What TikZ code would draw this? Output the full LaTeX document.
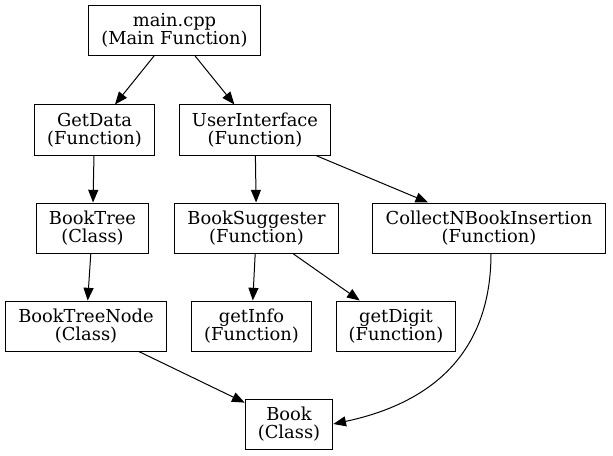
\documentclass[tikz,border=0pt]{standalone}
\usepackage{fontspec}
\setmainfont{DejaVu Serif}
\usetikzlibrary{positioning,arrows.meta}

\tikzset{
  box/.style={draw, line width=0.75pt, align=center, font=\fontsize{13.4pt}{13.5pt}\selectfont,
    minimum height=37.5pt, inner xsep=9.5pt, inner ysep=2pt},
  edge/.style={-{Triangle[length=9.5pt,width=7.5pt]}, line width=0.75pt}
}

\begin{document}
\begin{tikzpicture}[x=0.75pt,y=-0.75pt]
	\useasboundingbox (0,0) rectangle (613,456);
	\node[box] (main) at (174.5,30.5){main.cpp\\(Main Function)};
	\node[box] (getdata) at (94.5,130){GetData\\(Function)};
	\node[box] (ui) at (255,130){UserInterface\\(Function)};
	\node[box] (booktree) at (92.5,228){BookTree\\(Class)};
	\node[box] (suggester) at (256.5,228){BookSuggester\\(Function)};
	\node[box] (collect) at (489,228){CollectNBookInsertion\\(Function)};
	\node[box] (treenode) at (86,326){BookTreeNode\\(Class)};
	\node[box] (getinfo) at (251.5,326){getInfo\\(Function)};
	\node[box] (getdigit) at (396,326){getDigit\\(Function)};
	\node[box] (book) at (289,424){Book\\(Class)};

	\draw[edge] (main) -- (getdata);
	\draw[edge] (main) -- (ui);
	\draw[edge] (getdata) -- (booktree);
	\draw[edge] (booktree) -- (treenode);
	\draw[edge] (treenode) -- (book);
	\draw[edge] (ui) -- (suggester);
	\draw[edge] (ui) -- (collect);
	\draw[edge] (suggester) -- (getinfo);
	\draw[edge] (suggester) -- (getdigit);
	\draw[edge] (collect.south) ++(2,0) to[out=-90,in=12,looseness=1.1] (book.east);

\end{tikzpicture}
\end{document}
